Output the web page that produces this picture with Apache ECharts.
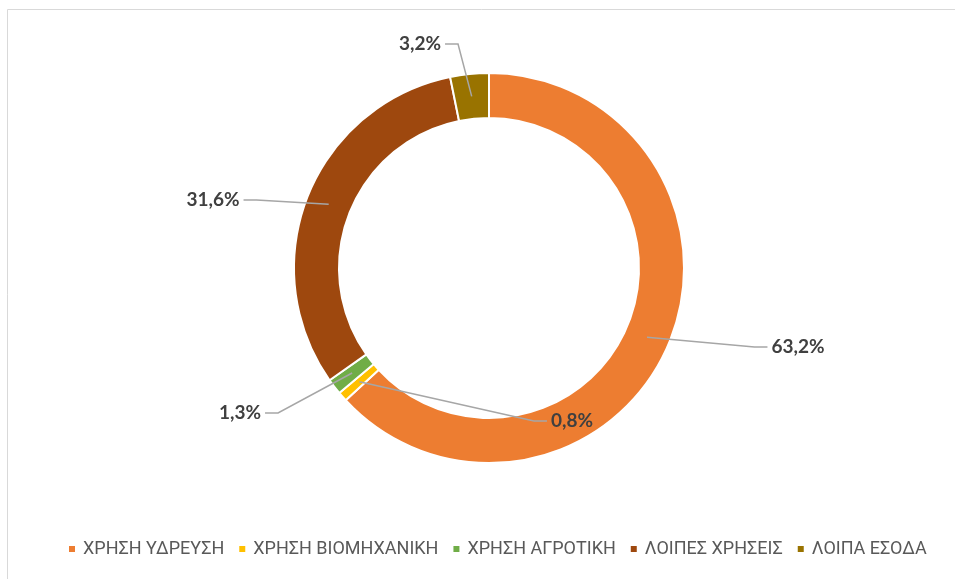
<!DOCTYPE html>
<html>
<head>
<meta charset="utf-8">
<script src="https://cdn.jsdelivr.net/npm/echarts@6/dist/echarts.min.js"></script>
<style>
  html, body { margin: 0; padding: 0; background: #fff; }
  #chart { width: 955px; height: 579px; }
</style>
</head>
<body>
<div id="chart"></div>
<script>
const categories = ["ΧΡΗΣΗ ΥΔΡΕΥΣΗ", "ΧΡΗΣΗ ΒΙΟΜΗΧΑΝΙΚΗ", "ΧΡΗΣΗ ΑΓΡΟΤΙΚΗ", "ΛΟΙΠΕΣ ΧΡΗΣΕΙΣ", "ΛΟΙΠΑ ΕΣΟΔΑ"];
const shares = [63.2, 0.8, 1.3, 31.6, 3.2];
const colors = ["#ed7d31", "#ffc000", "#70ad47", "#9e480e", "#997300"];

// where each label sits, as offset from the donut centre (px)
const labelOffset = [[309, 79], [83, 153], [-249, 145], [-276, -68], [-69, -224]];

const chart = echarts.init(document.getElementById("chart"));
const cx = 489, cy = 268;
const rIn = 150, rOut = 195;
const total = shares.reduce((a, b) => a + b, 0);
const pieData = categories.map((name, i) => ({ name: name, value: shares[i] }));

// leader line starts in the middle of the ring, at the slice's mid angle
function anchor(i) {
  let before = 0;
  for (let k = 0; k < i; k++) before += shares[k];
  const a = (before + shares[i] / 2) / total * 2 * Math.PI;
  const r = (rIn + rOut) / 2;
  return [cx + r * Math.sin(a), cy - r * Math.cos(a)];
}

chart.setOption({
  animation: false,
  color: colors,
  graphic: [{
    type: "rect",
    shape: { x: 7.5, y: 9.5, width: 1000, height: 1000 },
    style: { fill: "none", stroke: "#d9d9d9", lineWidth: 1 },
    silent: true
  }],
  legend: {
    top: 535,
    left: 62,
    icon: "rect",
    itemWidth: 8,
    itemHeight: 8,
    itemGap: 13,
    textStyle: { fontFamily: "Roboto", fontSize: 18, color: "#595959", padding: [0, 0, 0, 2] },
    data: categories
  },
  series: [{
    // the coloured ring
    type: "pie",
    z: 2,
    center: [cx, cy],
    radius: [rIn, rOut],
    startAngle: 90,
    clockwise: true,
    itemStyle: { borderColor: "#fff", borderWidth: 2 },
    label: { show: false },
    labelLine: { show: false },
    data: pieData
  }, {
    // invisible copy on top, so the leader lines are drawn over the ring
    type: "pie",
    z: 3,
    silent: true,
    center: [cx, cy],
    radius: [rIn, rOut],
    startAngle: 90,
    clockwise: true,
    avoidLabelOverlap: false,
    itemStyle: { color: "rgba(0,0,0,0)", borderWidth: 0 },
    label: {
      show: true,
      position: "outside",
      fontFamily: "Lato",
      fontWeight: "bold",
      fontSize: 19,
      color: "#404040",
      formatter: p => p.value.toFixed(1).replace(".", ",") + "%"
    },
    labelLine: {
      show: true,
      lineStyle: { color: "#a6a6a6", width: 1.5 }
    },
    labelLayout: function (params) {
      const i = params.dataIndex;
      const lx = cx + labelOffset[i][0], ly = cy + labelOffset[i][1];
      const w = params.labelRect.width;
      const s = anchor(i);
      let end, bend;
      if (s[0] < lx) {
        end = [lx - w / 2 - 4, ly];
        bend = [end[0] - 13, ly];
      } else {
        end = [lx + w / 2 + 4, ly];
        bend = [end[0] + 13, ly];
      }
      return {
        x: lx, y: ly, align: "center", verticalAlign: "middle",
        labelLinePoints: [s, bend, end]
      };
    },
    data: pieData
  }]
});
</script>
</body>
</html>
